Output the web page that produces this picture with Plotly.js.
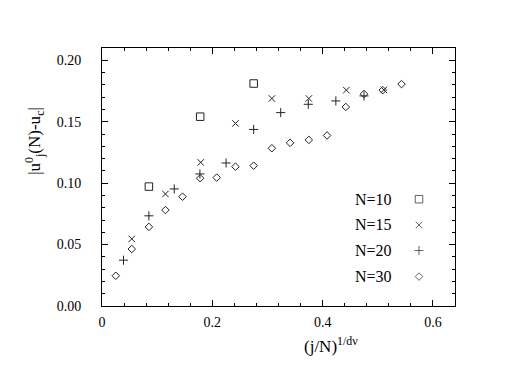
<!DOCTYPE html>
<html>
<head>
<meta charset="utf-8">
<script src="https://cdn.plot.ly/plotly-3.0.1.min.js"></script>
<style>
  html, body { margin: 0; padding: 0; background: #fff; }
  #chart { width: 507px; height: 392px; }
</style>
</head>
<body>
<div id="chart"></div>
<script>
// N=10
var x_n10 = [0.085, 0.178, 0.275];
var y_n10 = [0.0972, 0.1541, 0.1811];
// N=15
var x_n15 = [0.054, 0.115, 0.179, 0.242, 0.308, 0.375, 0.443, 0.511];
var y_n15 = [0.0546, 0.0912, 0.1169, 0.1486, 0.1689, 0.1689, 0.1757, 0.1759];
// N=20
var x_n20 = [0.039, 0.085, 0.131, 0.1775, 0.225, 0.275, 0.324, 0.374, 0.424, 0.475];
var y_n20 = [0.0373, 0.0734, 0.0953, 0.1075, 0.1164, 0.1437, 0.1574, 0.1642, 0.1669, 0.1710];
// N=30
var x_n30 = [0.025, 0.054, 0.085, 0.115, 0.146, 0.178, 0.208, 0.242, 0.275, 0.308,
             0.341, 0.375, 0.408, 0.442, 0.475, 0.509, 0.543];
var y_n30 = [0.0246, 0.0464, 0.0644, 0.0781, 0.0890, 0.1040, 0.1045, 0.1134, 0.1142, 0.1284,
             0.1328, 0.1352, 0.1388, 0.1620, 0.1726, 0.1757, 0.1806];

var legend_names = ['N=10', 'N=15', 'N=20', 'N=30'];

var serif = 'Liberation Serif, Times New Roman, serif';
var ink = '#222';

function series(x, y, name, symbol, size) {
  return {
    x: x, y: y, name: name,
    type: 'scatter', mode: 'markers',
    marker: { symbol: symbol, size: size, color: ink, line: { color: ink, width: 1 } },
    showlegend: false
  };
}

var symbols = ['square-open', 'x-thin-open', 'cross-thin-open', 'diamond-open'];
var sizes = [7.5, 6.5, 6.5, 5.8];

var data = [
  series(x_n10, y_n10, legend_names[0], symbols[0], sizes[0]),
  series(x_n15, y_n15, legend_names[1], symbols[1], sizes[1]),
  series(x_n20, y_n20, legend_names[2], symbols[2], sizes[2]),
  series(x_n30, y_n30, legend_names[3], symbols[3], sizes[3])
];

// hand made legend: text on the left, symbol on the right
var key_y = [0.414, 0.314, 0.215, 0.114];
data.push({
  x: [0.898, 0.898, 0.898, 0.898], y: key_y,
  xaxis: 'x2', yaxis: 'y2',
  type: 'scatter', mode: 'markers', hoverinfo: 'skip', showlegend: false,
  marker: { symbol: symbols, size: sizes, color: ink, line: { color: ink, width: 1 } }
});

var annotations = legend_names.map(function (n, i) {
  return {
    text: n, xref: 'paper', yref: 'paper', x: 0.826, y: key_y[i],
    xanchor: 'right', yanchor: 'middle', showarrow: false,
    font: { family: serif, size: 16, color: '#000' }
  };
});
annotations.push({
  text: '(j/N)<sup>1/dν</sup>', xref: 'paper', yref: 'paper', x: 0.649, y: -0.1,
  xanchor: 'center', yanchor: 'top', showarrow: false,
  font: { family: serif, size: 17, color: '#000' }
});
annotations.push({
  text: '|u<sup>0</sup><sub>j</sub>(N)-u<sub>c</sub>|', xref: 'paper', yref: 'paper',
  x: -0.19, y: 0.64, textangle: -90,
  xanchor: 'center', yanchor: 'middle', showarrow: false,
  font: { family: serif, size: 17, color: '#000' }
});

var axisCommon = {
  showgrid: false, zeroline: false,
  showline: true, linecolor: '#000', linewidth: 1, mirror: 'allticks',
  ticks: 'inside', ticklen: 6, tickcolor: '#000', tickwidth: 1,
  tickfont: { family: serif, size: 14, color: '#000' }
};

var layout = {
  width: 507, height: 392,
  margin: { l: 102, r: 52, t: 48, b: 86 },
  paper_bgcolor: '#fff', plot_bgcolor: '#fff',
  showlegend: false,
  xaxis: Object.assign({}, axisCommon, {
    range: [0, 0.64], dtick: 0.2, tick0: 0, ticklabelstandoff: 3,
    minor: { dtick: 0.04, ticks: 'inside', ticklen: 3, tickcolor: '#000' }
  }),
  yaxis: Object.assign({}, axisCommon, {
    range: [0, 0.21], dtick: 0.05, tick0: 0, tickformat: '.2f', ticklabelstandoff: 17,
    minor: { dtick: 0.01, ticks: 'inside', ticklen: 3, tickcolor: '#000' }
  }),
  xaxis2: { overlaying: 'x', range: [0, 1], visible: false },
  yaxis2: { overlaying: 'y', range: [0, 1], visible: false },
  annotations: annotations
};

Plotly.newPlot('chart', data, layout, { displayModeBar: false, staticPlot: true });
</script>
</body>
</html>
